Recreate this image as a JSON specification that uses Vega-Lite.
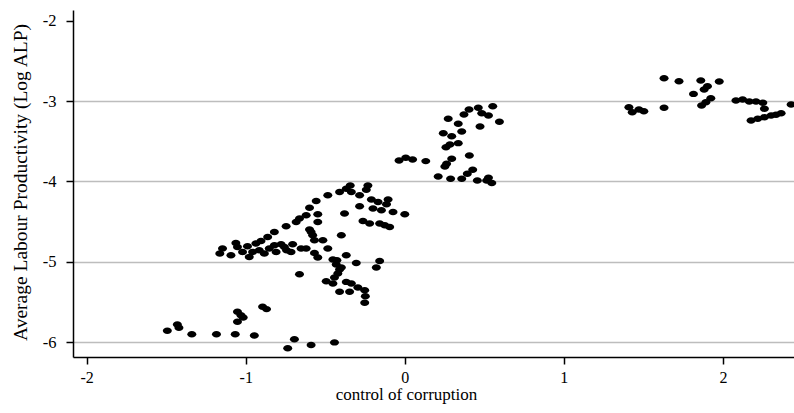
{
  "$schema": "https://vega.github.io/schema/vega-lite/v6.json",
  "width": 721,
  "height": 347,
  "autosize": "none",
  "padding": {"left": 73, "top": 10, "right": 0, "bottom": 56},
  "background": "white",
  "config": {
    "view": {"stroke": null},
    "font": "Liberation Serif",
    "axis": {"labelFont": "Liberation Serif", "titleFont": "Liberation Serif", "labelColor": "#000", "titleColor": "#000", "titleFontWeight": "normal"}
  },
  "data": {
    "values": [
      {"x": -1.163, "y": -4.898}, {"x": -1.146, "y": -4.836}, {"x": -1.093, "y": -4.919}, {"x": -1.062, "y": -4.766},
      {"x": -1.052, "y": -4.816}, {"x": -1.020, "y": -4.878}, {"x": -0.978, "y": -4.940}, {"x": -0.957, "y": -4.878},
      {"x": -0.989, "y": -4.807}, {"x": -0.936, "y": -4.774}, {"x": -0.904, "y": -4.742}, {"x": -0.915, "y": -4.857},
      {"x": -0.883, "y": -4.898}, {"x": -0.852, "y": -4.836}, {"x": -0.820, "y": -4.795}, {"x": -0.809, "y": -4.878},
      {"x": -0.757, "y": -4.816}, {"x": -0.705, "y": -4.783}, {"x": -0.715, "y": -4.878}, {"x": -0.652, "y": -4.836},
      {"x": -0.862, "y": -4.692}, {"x": -0.820, "y": -4.630}, {"x": -0.746, "y": -4.559}, {"x": -0.683, "y": -4.506},
      {"x": -0.662, "y": -5.155}, {"x": -0.778, "y": -4.783}, {"x": -0.743, "y": -4.857}, {"x": -0.662, "y": -4.463},
      {"x": -0.620, "y": -4.422}, {"x": -0.599, "y": -4.327}, {"x": -0.557, "y": -4.245}, {"x": -0.484, "y": -4.174},
      {"x": -0.343, "y": -4.050}, {"x": -0.368, "y": -4.091}, {"x": -0.410, "y": -4.133}, {"x": -0.336, "y": -4.133},
      {"x": -0.284, "y": -4.174}, {"x": -0.232, "y": -4.050}, {"x": -0.242, "y": -4.103}, {"x": -0.547, "y": -4.410},
      {"x": -0.547, "y": -4.506}, {"x": -0.379, "y": -4.401}, {"x": -0.284, "y": -4.311}, {"x": -0.210, "y": -4.227},
      {"x": -0.168, "y": -4.257}, {"x": -0.105, "y": -4.227}, {"x": -0.115, "y": -4.286}, {"x": -0.200, "y": -4.339},
      {"x": -0.147, "y": -4.360}, {"x": -0.074, "y": -4.381}, {"x": 0.000, "y": -4.410}, {"x": -0.263, "y": -4.493},
      {"x": -0.221, "y": -4.525}, {"x": -0.158, "y": -4.525}, {"x": -0.126, "y": -4.547}, {"x": -0.095, "y": -4.568},
      {"x": -0.599, "y": -4.600}, {"x": -0.579, "y": -4.671}, {"x": -0.568, "y": -4.733}, {"x": -0.515, "y": -4.733},
      {"x": -0.399, "y": -4.671}, {"x": -0.484, "y": -4.836}, {"x": -0.620, "y": -4.836}, {"x": -0.568, "y": -4.891},
      {"x": -0.368, "y": -4.919}, {"x": -0.589, "y": -4.630}, {"x": -0.547, "y": -4.948}, {"x": -0.452, "y": -4.973},
      {"x": -0.431, "y": -5.035}, {"x": -0.410, "y": -5.097}, {"x": -0.421, "y": -5.147}, {"x": -0.442, "y": -5.196},
      {"x": -0.494, "y": -5.242}, {"x": -0.368, "y": -5.251}, {"x": -0.410, "y": -5.375}, {"x": -0.336, "y": -5.271},
      {"x": -0.295, "y": -5.320}, {"x": -0.252, "y": -5.354}, {"x": -0.248, "y": -5.429}, {"x": -0.305, "y": -5.015},
      {"x": -0.158, "y": -4.990}, {"x": -0.179, "y": -5.072}, {"x": -0.427, "y": -4.981}, {"x": -0.399, "y": -5.072},
      {"x": -0.452, "y": -5.271}, {"x": -0.252, "y": -5.512}, {"x": -0.347, "y": -5.375},
      {"x": -1.493, "y": -5.860}, {"x": -1.430, "y": -5.780}, {"x": -1.420, "y": -5.822}, {"x": -1.339, "y": -5.904},
      {"x": -1.184, "y": -5.904}, {"x": -1.066, "y": -5.904}, {"x": -0.946, "y": -5.917}, {"x": -1.052, "y": -5.624},
      {"x": -1.030, "y": -5.665}, {"x": -1.016, "y": -5.693}, {"x": -1.052, "y": -5.748}, {"x": -0.894, "y": -5.561},
      {"x": -0.869, "y": -5.590}, {"x": -0.736, "y": -6.078}, {"x": -0.694, "y": -5.966}, {"x": -0.589, "y": -6.037},
      {"x": -0.442, "y": -6.004},
      {"x": 0.553, "y": -3.065}, {"x": 0.462, "y": -3.084}, {"x": 0.404, "y": -3.106}, {"x": 0.372, "y": -3.168},
      {"x": 0.484, "y": -3.152}, {"x": 0.526, "y": -3.180}, {"x": 0.595, "y": -3.258}, {"x": 0.273, "y": -3.221},
      {"x": 0.336, "y": -3.283}, {"x": 0.473, "y": -3.317}, {"x": 0.358, "y": -3.379}, {"x": 0.242, "y": -3.400},
      {"x": 0.295, "y": -3.437}, {"x": 0.336, "y": -3.524}, {"x": 0.284, "y": -3.540}, {"x": 0.259, "y": -3.574},
      {"x": -0.036, "y": -3.739}, {"x": 0.006, "y": -3.706}, {"x": 0.049, "y": -3.727}, {"x": 0.132, "y": -3.748},
      {"x": 0.295, "y": -3.718}, {"x": 0.263, "y": -3.780}, {"x": 0.252, "y": -3.814}, {"x": 0.406, "y": -3.677},
      {"x": 0.210, "y": -3.938}, {"x": 0.288, "y": -3.966}, {"x": 0.358, "y": -3.966}, {"x": 0.393, "y": -3.904},
      {"x": 0.427, "y": -3.855}, {"x": 0.456, "y": -3.988}, {"x": 0.526, "y": -3.954}, {"x": 0.547, "y": -4.021},
      {"x": 0.515, "y": -3.988},
      {"x": 1.630, "y": -2.717}, {"x": 1.724, "y": -2.754}, {"x": 1.861, "y": -2.745}, {"x": 1.977, "y": -2.758},
      {"x": 1.903, "y": -2.816}, {"x": 1.882, "y": -2.857}, {"x": 1.815, "y": -2.911}, {"x": 1.924, "y": -2.965},
      {"x": 1.893, "y": -3.015}, {"x": 1.866, "y": -3.056}, {"x": 1.630, "y": -3.085}, {"x": 1.409, "y": -3.077},
      {"x": 1.430, "y": -3.139}, {"x": 1.472, "y": -3.106}, {"x": 1.503, "y": -3.127}, {"x": 2.082, "y": -2.994},
      {"x": 2.124, "y": -2.981}, {"x": 2.166, "y": -3.006}, {"x": 2.208, "y": -3.006}, {"x": 2.251, "y": -3.022},
      {"x": 2.261, "y": -3.097}, {"x": 2.429, "y": -3.043}, {"x": 2.177, "y": -3.242}, {"x": 2.219, "y": -3.221},
      {"x": 2.261, "y": -3.201}, {"x": 2.303, "y": -3.180}, {"x": 2.334, "y": -3.171}, {"x": 2.366, "y": -3.152}
    ]
  },
  "mark": {
    "type": "point",
    "shape": "M -1,0 A 1,0.72 0 1,1 1,0 A 1,0.72 0 1,1 -1,0 Z",
    "size": 81,
    "filled": true,
    "color": "#000",
    "opacity": 1,
    "clip": true
  },
  "encoding": {
    "x": {
      "field": "x", "type": "quantitative",
      "scale": {"domain": [-2.086, 2.447], "nice": false, "zero": false},
      "axis": {
        "title": "control of corruption", "titleFontSize": 17,
        "titleX": 333, "titleY": 42, "titleBaseline": "alphabetic", "titleAlign": "center",
        "values": [-2, -1, 0, 1, 2], "labelExpr": "'' + datum.value",
        "labelFontSize": 16, "labelPadding": 5, "grid": false,
        "domainColor": "#000", "domainWidth": 1.5, "tickColor": "#000", "tickWidth": 1.5, "tickSize": 7
      }
    },
    "y": {
      "field": "y", "type": "quantitative",
      "scale": {"domain": [-6.186, -1.867], "nice": false, "zero": false},
      "axis": {
        "title": "Average Labour Productivity (Log ALP)", "titleFontSize": 19.5,
        "titleX": -47, "titleY": 172, "titleBaseline": "alphabetic",
        "values": [-6, -5, -4, -3, -2], "labelExpr": "'' + datum.value",
        "labelFontSize": 16.5, "labelPadding": 10,
        "grid": true,
        "gridColor": {"condition": {"test": "datum.value == -2", "value": "transparent"}, "value": "#bdbdbd"},
        "gridWidth": 1.5,
        "domainColor": "#000", "domainWidth": 1.5, "tickColor": "#000", "tickWidth": 1.5, "tickSize": 7
      }
    }
  }
}
